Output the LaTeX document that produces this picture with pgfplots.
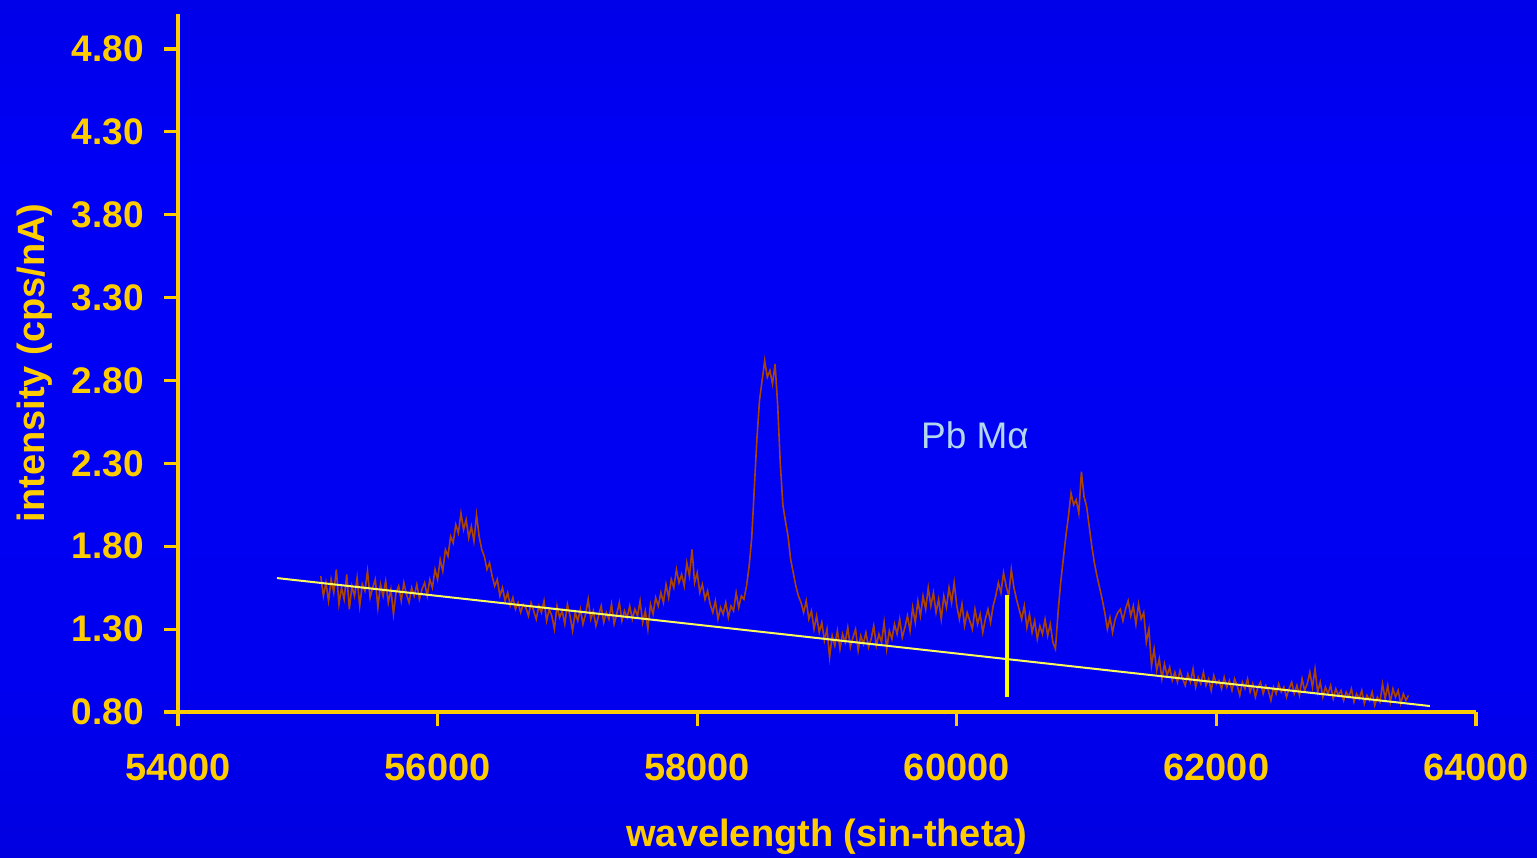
\documentclass[border=0pt]{standalone}
\usepackage{pgfplots}
\pgfplotsset{compat=1.18}
\usepackage{pgfplotstable}
\usepackage{fontspec}
\setmainfont{Liberation Sans}
\definecolor{gold}{RGB}{255,204,0}
\definecolor{spec}{RGB}{170,68,5}
\definecolor{bgline}{RGB}{250,250,90}
\definecolor{marker}{RGB}{255,255,0}
\definecolor{pblab}{RGB}{178,214,238}
\definecolor{bgA}{RGB}{0,0,138}
\definecolor{bgB}{RGB}{0,0,205}
\definecolor{bgC}{RGB}{0,0,240}
\definecolor{bgD}{RGB}{0,0,246}
\definecolor{bgE}{RGB}{0,0,215}
\definecolor{bgF}{RGB}{0,0,150}
\pgfdeclareverticalshading{bg}{100bp}{color(0bp)=(bgA); color(12bp)=(bgB); color(35bp)=(bgC); color(65bp)=(bgD); color(88bp)=(bgE); color(100bp)=(bgF)}

\pgfplotstableread{
x y
55100 1.62
55120 1.50
55140 1.58
55160 1.47
55180 1.60
55200 1.52
55220 1.66
55240 1.45
55260 1.55
55280 1.48
55300 1.63
55320 1.42
55340 1.56
55360 1.50
55380 1.61
55400 1.44
55420 1.57
55440 1.53
55460 1.65
55480 1.49
55500 1.55
55520 1.60
55540 1.43
55560 1.57
55580 1.50
55600 1.59
55620 1.46
55640 1.54
55660 1.39
55680 1.52
55700 1.56
55720 1.47
55740 1.58
55760 1.51
55780 1.46
55800 1.55
55820 1.50
55840 1.57
55860 1.48
55880 1.54
55900 1.58
55920 1.50
55940 1.60
55960 1.55
55980 1.66
56000 1.60
56020 1.72
56040 1.65
56060 1.78
56080 1.74
56100 1.86
56120 1.82
56140 1.93
56160 1.88
56180 2.00
56200 1.90
56220 1.96
56240 1.85
56260 1.92
56280 1.83
56300 1.99
56320 1.86
56340 1.78
56360 1.74
56380 1.66
56400 1.70
56420 1.62
56440 1.56
56460 1.60
56480 1.50
56500 1.55
56520 1.47
56540 1.52
56560 1.44
56580 1.49
56600 1.42
56620 1.46
56640 1.40
56660 1.45
56680 1.43
56700 1.38
56720 1.46
56740 1.41
56760 1.36
56780 1.44
56800 1.40
56820 1.47
56840 1.35
56860 1.42
56880 1.38
56900 1.30
56920 1.44
56940 1.37
56960 1.41
56980 1.33
57000 1.45
57020 1.38
57040 1.29
57060 1.40
57080 1.35
57100 1.42
57120 1.33
57140 1.39
57160 1.48
57180 1.36
57200 1.41
57220 1.32
57240 1.38
57260 1.44
57280 1.34
57300 1.40
57320 1.36
57340 1.45
57360 1.33
57380 1.39
57400 1.46
57420 1.35
57440 1.41
57460 1.37
57480 1.44
57500 1.36
57520 1.42
57540 1.38
57560 1.47
57580 1.34
57600 1.41
57620 1.30
57640 1.45
57660 1.39
57680 1.49
57700 1.44
57720 1.52
57740 1.46
57760 1.57
57780 1.49
57800 1.60
57820 1.55
57840 1.66
57860 1.58
57880 1.63
57900 1.56
57920 1.70
57940 1.62
57960 1.78
57980 1.58
58000 1.64
58020 1.52
58040 1.57
58060 1.48
58080 1.53
58100 1.45
58120 1.40
58140 1.47
58160 1.36
58180 1.43
58200 1.39
58220 1.46
58240 1.37
58260 1.44
58280 1.41
58300 1.52
58320 1.43
58340 1.50
58360 1.48
58380 1.56
58400 1.68
58420 1.85
58440 2.15
58460 2.45
58480 2.68
58500 2.80
58520 2.92
58540 2.82
58560 2.86
58580 2.78
58600 2.90
58620 2.65
58640 2.30
58660 2.05
58680 1.95
58700 1.86
58720 1.72
58740 1.64
58760 1.56
58780 1.50
58800 1.46
58820 1.40
58840 1.47
58860 1.36
58880 1.41
58900 1.30
58920 1.38
58940 1.28
58960 1.34
58980 1.23
59000 1.30
59020 1.13
59040 1.26
59060 1.20
59080 1.29
59100 1.18
59120 1.27
59140 1.22
59160 1.31
59180 1.19
59200 1.25
59220 1.30
59240 1.17
59260 1.26
59280 1.21
59300 1.28
59320 1.19
59340 1.24
59360 1.32
59380 1.20
59400 1.27
59420 1.22
59440 1.34
59460 1.18
59480 1.29
59500 1.24
59520 1.33
59540 1.27
59560 1.36
59580 1.25
59600 1.31
59620 1.38
59640 1.29
59660 1.43
59680 1.34
59700 1.47
59720 1.38
59740 1.50
59760 1.42
59780 1.55
59800 1.44
59820 1.52
59840 1.40
59860 1.48
59880 1.36
59900 1.50
59920 1.43
59940 1.55
59960 1.46
59980 1.58
60000 1.44
60020 1.36
60040 1.45
60060 1.32
60080 1.40
60100 1.35
60120 1.30
60140 1.42
60160 1.33
60180 1.39
60200 1.28
60220 1.36
60240 1.42
60260 1.34
60280 1.44
60300 1.50
60320 1.58
60340 1.52
60360 1.64
60380 1.56
60400 1.50
60420 1.66
60440 1.55
60460 1.48
60480 1.42
60500 1.36
60520 1.44
60540 1.31
60560 1.39
60580 1.28
60600 1.35
60620 1.24
60640 1.32
60660 1.27
60680 1.36
60700 1.26
60720 1.33
60740 1.22
60760 1.18
60780 1.40
60800 1.58
60820 1.72
60840 1.86
60860 1.98
60880 2.12
60900 2.05
60920 2.08
60940 2.00
60960 2.25
60980 2.10
61000 2.04
61020 1.92
61040 1.80
61060 1.70
61080 1.62
61100 1.55
61120 1.48
61140 1.40
61160 1.30
61180 1.37
61200 1.28
61220 1.36
61240 1.40
61260 1.42
61280 1.35
61300 1.42
61320 1.47
61340 1.38
61360 1.44
61380 1.33
61400 1.45
61420 1.36
61440 1.40
61460 1.22
61480 1.30
61500 1.08
61520 1.18
61540 1.05
61560 1.12
61580 1.00
61600 1.09
61620 1.02
61640 1.07
61660 0.99
61680 1.04
61700 0.98
61720 1.05
61740 1.00
61760 0.96
61780 1.03
61800 0.98
61820 1.06
61840 0.95
61860 1.01
61880 0.97
61900 1.04
61920 0.96
61940 1.00
61960 0.93
61980 1.02
62000 0.97
62020 0.99
62040 0.94
62060 1.01
62080 0.95
62100 0.99
62120 0.93
62140 1.00
62160 0.96
62180 0.90
62200 0.98
62220 0.94
62240 1.00
62260 0.92
62280 0.97
62300 0.89
62320 0.95
62340 0.98
62360 0.91
62380 0.96
62400 0.93
62420 0.87
62440 0.95
62460 0.91
62480 0.97
62500 0.92
62520 0.95
62540 0.89
62560 0.94
62580 0.98
62600 0.91
62620 0.96
62640 0.90
62660 1.00
62680 0.93
62700 0.97
62720 1.04
62740 0.95
62760 1.06
62780 0.92
62800 0.98
62820 0.89
62840 0.95
62860 0.91
62880 0.96
62900 0.88
62920 0.94
62940 0.90
62960 0.93
62980 0.87
63000 0.92
63020 0.89
63040 0.94
63060 0.86
63080 0.91
63100 0.88
63120 0.93
63140 0.85
63160 0.90
63180 0.87
63200 0.92
63220 0.84
63240 0.89
63260 0.86
63280 0.97
63300 0.88
63320 0.96
63340 0.86
63360 0.94
63380 0.89
63400 0.93
63420 0.85
63440 0.91
63460 0.87
63480 0.90
}\spectrum

\begin{document}
\begin{tikzpicture}
\useasboundingbox (0,0) rectangle (768.5pt,428.5pt);
\shade[shading=bg] (0,0) rectangle (768.5pt,428.5pt);
\begin{axis}[
  at={(89pt,72.5pt)}, anchor=south west,
  scale only axis, width=649pt, height=349pt,
  xmin=54000, xmax=64000, ymin=0.8, ymax=5.011,
  scaled x ticks=false, scaled y ticks=false,
  axis x line=bottom, axis y line=left,
  axis line style={-, draw=gold, line width=2pt},
  xtick={54000,56000,58000,60000,62000,64000},
  xticklabels={54000,56000,58000,60000,62000,64000},
  ytick={0.8,1.3,1.8,2.3,2.8,3.3,3.8,4.3,4.8},
  yticklabels={0.80,1.30,1.80,2.30,2.80,3.30,3.80,4.30,4.80},
  tick align=outside, major tick length=7pt,
  every tick/.style={draw=gold, line width=1.6pt},
  tick label style={font=\fontsize{18.5}{20}\selectfont\bfseries, text=gold},
  xticklabel style={font=\fontsize{19}{21}\selectfont\bfseries},
  yticklabel style={anchor=east, inner sep=0pt, xshift=-10pt},
  xticklabel style={anchor=north, inner sep=0pt, yshift=-14pt},
  xlabel={wavelength (sin-theta)},
  ylabel={intensity (cps/nA)},
  label style={font=\fontsize{19}{21}\selectfont\bfseries, text=gold},
  xlabel style={at={(axis description cs:0.5,-0.1934)}, anchor=base, inner sep=0pt},
  ylabel style={at={(axis description cs:-0.1025,0.5)}, anchor=base, inner sep=0pt},
  clip=false,
]
\addplot[spec, line width=0.8pt] table[x=x,y=y] {\spectrum};
\addplot[bgline, line width=1pt] coordinates {(54763,1.608) (63645,0.836)};
\addplot[marker, line width=2pt] coordinates {(60390,0.89) (60390,1.506)};
\node[text=pblab, font=\fontsize{18.5}{20}\selectfont, anchor=center] at (axis cs:60140,2.47) {Pb Mα};
\end{axis}
\end{tikzpicture}
\end{document}
